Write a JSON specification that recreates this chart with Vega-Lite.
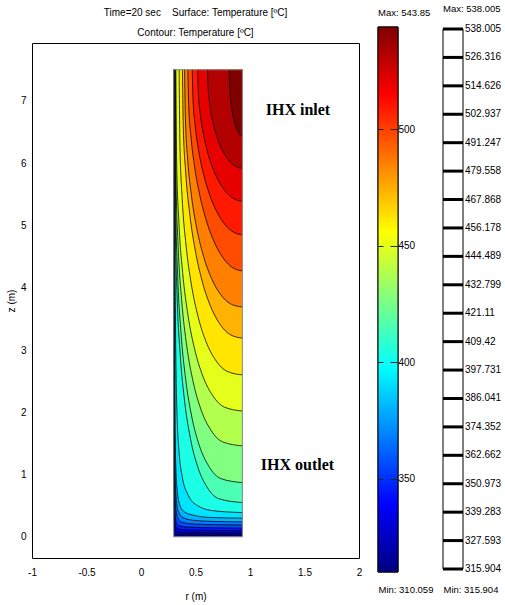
{
  "$schema": "https://vega.github.io/schema/vega-lite/v6.json",
  "padding": {"left": 5, "top": 3, "right": 0, "bottom": 0},
  "background": "white",
  "spacing": 14,
  "align": "none",
  "config": {
    "font": "Liberation Sans",
    "view": {"stroke": "black", "strokeWidth": 1},
    "axis": {"labelFont": "Liberation Sans", "labelFontSize": 10, "labelColor": "black", "titleFont": "Liberation Sans", "titleFontSize": 10, "titleFontWeight": "normal", "titleColor": "black", "grid": false},
    "title": {"font": "Liberation Sans", "fontSize": 10, "fontWeight": "normal", "color": "black"}
  },
  "datasets": {
    "base": [{"r": 0.3, "r2": 0.93, "z": 0, "z2": 7.5, "level": 310.059}],
    "notes": [{"label": "IHX inlet", "r": 1.44, "z": 6.86}, {"label": "IHX outlet", "r": 1.435, "z": 1.16}],
    "cbar": [{"tmin": 310.059, "tmax": 543.85}],
    "cbox": [{"lo": 315.904, "hi": 538.005}],
    "levels": [{"level": 315.904}, {"level": 327.593}, {"level": 339.283}, {"level": 350.973}, {"level": 362.662}, {"level": 374.352}, {"level": 386.041}, {"level": 397.731}, {"level": 409.42}, {"level": 421.11}, {"level": 432.799}, {"level": 444.489}, {"level": 456.178}, {"level": 467.868}, {"level": 479.558}, {"level": 491.247}, {"level": 502.937}, {"level": 514.626}, {"level": 526.316}, {"level": 538.005}],
    "contours": [
      {"level": 315.904, "i": 0, "r": 0.3005, "z": 7.5}, {"level": 315.904, "i": 1, "r": 0.3009, "z": 4.5}, {"level": 315.904, "i": 2, "r": 0.3012, "z": 2.5}, {"level": 315.904, "i": 3, "r": 0.3017, "z": 0.7}, {"level": 315.904, "i": 4, "r": 0.3028, "z": 0.28}, {"level": 315.904, "i": 5, "r": 0.305, "z": 0.12}, {"level": 315.904, "i": 6, "r": 0.31, "z": 0.06}, {"level": 315.904, "i": 7, "r": 0.32, "z": 0.04}, {"level": 315.904, "i": 8, "r": 0.38, "z": 0.034}, {"level": 315.904, "i": 9, "r": 0.65, "z": 0.031}, {"level": 315.904, "i": 10, "r": 0.93, "z": 0.03},
      {"level": 327.593, "i": 0, "r": 0.301, "z": 7.5}, {"level": 327.593, "i": 1, "r": 0.3017, "z": 4.5}, {"level": 327.593, "i": 2, "r": 0.3022, "z": 2.5}, {"level": 327.593, "i": 3, "r": 0.303, "z": 0.8}, {"level": 327.593, "i": 4, "r": 0.3048, "z": 0.35}, {"level": 327.593, "i": 5, "r": 0.308, "z": 0.18}, {"level": 327.593, "i": 6, "r": 0.315, "z": 0.11}, {"level": 327.593, "i": 7, "r": 0.33, "z": 0.08}, {"level": 327.593, "i": 8, "r": 0.4, "z": 0.068}, {"level": 327.593, "i": 9, "r": 0.65, "z": 0.062}, {"level": 327.593, "i": 10, "r": 0.93, "z": 0.06},
      {"level": 339.283, "i": 0, "r": 0.3015, "z": 7.5}, {"level": 339.283, "i": 1, "r": 0.3025, "z": 4.5}, {"level": 339.283, "i": 2, "r": 0.3032, "z": 2.5}, {"level": 339.283, "i": 3, "r": 0.3045, "z": 0.9}, {"level": 339.283, "i": 4, "r": 0.307, "z": 0.45}, {"level": 339.283, "i": 5, "r": 0.311, "z": 0.25}, {"level": 339.283, "i": 6, "r": 0.321, "z": 0.16}, {"level": 339.283, "i": 7, "r": 0.342, "z": 0.125}, {"level": 339.283, "i": 8, "r": 0.42, "z": 0.11}, {"level": 339.283, "i": 9, "r": 0.65, "z": 0.103}, {"level": 339.283, "i": 10, "r": 0.93, "z": 0.1},
      {"level": 350.973, "i": 0, "r": 0.302, "z": 7.5}, {"level": 350.973, "i": 1, "r": 0.3035, "z": 4.5}, {"level": 350.973, "i": 2, "r": 0.3045, "z": 2.5}, {"level": 350.973, "i": 3, "r": 0.306, "z": 1.0}, {"level": 350.973, "i": 4, "r": 0.309, "z": 0.55}, {"level": 350.973, "i": 5, "r": 0.315, "z": 0.33}, {"level": 350.973, "i": 6, "r": 0.328, "z": 0.22}, {"level": 350.973, "i": 7, "r": 0.355, "z": 0.175}, {"level": 350.973, "i": 8, "r": 0.44, "z": 0.155}, {"level": 350.973, "i": 9, "r": 0.65, "z": 0.145}, {"level": 350.973, "i": 10, "r": 0.93, "z": 0.14},
      {"level": 362.662, "i": 0, "r": 0.303, "z": 7.5}, {"level": 362.662, "i": 1, "r": 0.305, "z": 4.5}, {"level": 362.662, "i": 2, "r": 0.306, "z": 2.5}, {"level": 362.662, "i": 3, "r": 0.308, "z": 1.2}, {"level": 362.662, "i": 4, "r": 0.312, "z": 0.7}, {"level": 362.662, "i": 5, "r": 0.32, "z": 0.45}, {"level": 362.662, "i": 6, "r": 0.336, "z": 0.31}, {"level": 362.662, "i": 7, "r": 0.37, "z": 0.24}, {"level": 362.662, "i": 8, "r": 0.46, "z": 0.21}, {"level": 362.662, "i": 9, "r": 0.65, "z": 0.196}, {"level": 362.662, "i": 10, "r": 0.93, "z": 0.19},
      {"level": 374.352, "i": 0, "r": 0.304, "z": 7.5}, {"level": 374.352, "i": 1, "r": 0.306, "z": 4.5}, {"level": 374.352, "i": 2, "r": 0.308, "z": 2.5}, {"level": 374.352, "i": 3, "r": 0.31, "z": 1.4}, {"level": 374.352, "i": 4, "r": 0.315, "z": 0.9}, {"level": 374.352, "i": 5, "r": 0.325, "z": 0.58}, {"level": 374.352, "i": 6, "r": 0.345, "z": 0.4}, {"level": 374.352, "i": 7, "r": 0.385, "z": 0.31}, {"level": 374.352, "i": 8, "r": 0.48, "z": 0.265}, {"level": 374.352, "i": 9, "r": 0.65, "z": 0.248}, {"level": 374.352, "i": 10, "r": 0.93, "z": 0.24},
      {"level": 386.041, "i": 0, "r": 0.305, "z": 7.5}, {"level": 386.041, "i": 1, "r": 0.308, "z": 4.5}, {"level": 386.041, "i": 2, "r": 0.311, "z": 2.5}, {"level": 386.041, "i": 3, "r": 0.314, "z": 1.6}, {"level": 386.041, "i": 4, "r": 0.32, "z": 1.1}, {"level": 386.041, "i": 5, "r": 0.332, "z": 0.75}, {"level": 386.041, "i": 6, "r": 0.355, "z": 0.52}, {"level": 386.041, "i": 7, "r": 0.4, "z": 0.4}, {"level": 386.041, "i": 8, "r": 0.5, "z": 0.34}, {"level": 386.041, "i": 9, "r": 0.65, "z": 0.31}, {"level": 386.041, "i": 10, "r": 0.93, "z": 0.3},
      {"level": 397.731, "i": 0, "r": 0.307, "z": 7.5}, {"level": 397.731, "i": 1, "r": 0.311, "z": 5.0}, {"level": 397.731, "i": 2, "r": 0.316, "z": 3.5}, {"level": 397.731, "i": 3, "r": 0.322, "z": 2.6}, {"level": 397.731, "i": 4, "r": 0.332, "z": 1.9}, {"level": 397.731, "i": 5, "r": 0.35, "z": 1.35}, {"level": 397.731, "i": 6, "r": 0.38, "z": 0.95}, {"level": 397.731, "i": 7, "r": 0.43, "z": 0.68}, {"level": 397.731, "i": 8, "r": 0.52, "z": 0.5}, {"level": 397.731, "i": 9, "r": 0.66, "z": 0.42}, {"level": 397.731, "i": 10, "r": 0.93, "z": 0.39},
      {"level": 409.42, "i": 0, "r": 0.309, "z": 7.5}, {"level": 409.42, "i": 1, "r": 0.3147, "z": 5.0696}, {"level": 409.42, "i": 2, "r": 0.3317, "z": 3.8492}, {"level": 409.42, "i": 3, "r": 0.3604, "z": 2.9144}, {"level": 409.42, "i": 4, "r": 0.4008, "z": 2.1686}, {"level": 409.42, "i": 5, "r": 0.4536, "z": 1.5772}, {"level": 409.42, "i": 6, "r": 0.5203, "z": 1.1248}, {"level": 409.42, "i": 7, "r": 0.6038, "z": 0.8044}, {"level": 409.42, "i": 8, "r": 0.7128, "z": 0.6133}, {"level": 409.42, "i": 9, "r": 0.93, "z": 0.55},
      {"level": 421.11, "i": 0, "r": 0.312, "z": 7.5}, {"level": 421.11, "i": 1, "r": 0.3181, "z": 5.3757}, {"level": 421.11, "i": 2, "r": 0.3365, "z": 4.1989}, {"level": 421.11, "i": 3, "r": 0.3672, "z": 3.2747}, {"level": 421.11, "i": 4, "r": 0.4103, "z": 2.5255}, {"level": 421.11, "i": 5, "r": 0.4663, "z": 1.9248}, {"level": 421.11, "i": 6, "r": 0.5361, "z": 1.4621}, {"level": 421.11, "i": 7, "r": 0.6223, "z": 1.1325}, {"level": 421.11, "i": 8, "r": 0.732, "z": 0.9356}, {"level": 421.11, "i": 9, "r": 0.93, "z": 0.87},
      {"level": 432.799, "i": 0, "r": 0.315, "z": 7.5}, {"level": 432.799, "i": 1, "r": 0.3216, "z": 5.7267}, {"level": 432.799, "i": 2, "r": 0.3412, "z": 4.6497}, {"level": 432.799, "i": 3, "r": 0.3739, "z": 3.7818}, {"level": 432.799, "i": 4, "r": 0.4197, "z": 3.0672}, {"level": 432.799, "i": 5, "r": 0.4786, "z": 2.488}, {"level": 432.799, "i": 6, "r": 0.5514, "z": 2.0386}, {"level": 432.799, "i": 7, "r": 0.6398, "z": 1.7173}, {"level": 432.799, "i": 8, "r": 0.7494, "z": 1.5246}, {"level": 432.799, "i": 9, "r": 0.93, "z": 1.46},
      {"level": 444.489, "i": 0, "r": 0.32, "z": 7.5}, {"level": 444.489, "i": 1, "r": 0.327, "z": 6.0259}, {"level": 444.489, "i": 2, "r": 0.3478, "z": 5.0493}, {"level": 444.489, "i": 3, "r": 0.3824, "z": 4.2416}, {"level": 444.489, "i": 4, "r": 0.4305, "z": 3.5659}, {"level": 444.489, "i": 5, "r": 0.4921, "z": 3.013}, {"level": 444.489, "i": 6, "r": 0.5673, "z": 2.5806}, {"level": 444.489, "i": 7, "r": 0.6572, "z": 2.2699}, {"level": 444.489, "i": 8, "r": 0.7659, "z": 2.0825}, {"level": 444.489, "i": 9, "r": 0.93, "z": 2.02},
      {"level": 456.178, "i": 0, "r": 0.35, "z": 7.5}, {"level": 456.178, "i": 1, "r": 0.3571, "z": 6.2926}, {"level": 456.178, "i": 2, "r": 0.3781, "z": 5.4229}, {"level": 456.178, "i": 3, "r": 0.413, "z": 4.6859}, {"level": 456.178, "i": 4, "r": 0.4614, "z": 4.0592}, {"level": 456.178, "i": 5, "r": 0.5227, "z": 3.5413}, {"level": 456.178, "i": 6, "r": 0.5969, "z": 3.1326}, {"level": 456.178, "i": 7, "r": 0.6841, "z": 2.8377}, {"level": 456.178, "i": 8, "r": 0.7871, "z": 2.6598}, {"level": 456.178, "i": 9, "r": 0.93, "z": 2.6},
      {"level": 467.868, "i": 0, "r": 0.38, "z": 7.5}, {"level": 467.868, "i": 1, "r": 0.3875, "z": 6.6087}, {"level": 467.868, "i": 2, "r": 0.4099, "z": 5.8587}, {"level": 467.868, "i": 3, "r": 0.4468, "z": 5.1903}, {"level": 467.868, "i": 4, "r": 0.4973, "z": 4.6041}, {"level": 467.868, "i": 5, "r": 0.5605, "z": 4.1093}, {"level": 467.868, "i": 6, "r": 0.6353, "z": 3.7132}, {"level": 467.868, "i": 7, "r": 0.7206, "z": 3.4245}, {"level": 467.868, "i": 8, "r": 0.8163, "z": 3.249}, {"level": 467.868, "i": 9, "r": 0.93, "z": 3.19},
      {"level": 479.558, "i": 0, "r": 0.4, "z": 7.5}, {"level": 479.558, "i": 1, "r": 0.4073, "z": 6.7121}, {"level": 479.558, "i": 2, "r": 0.4288, "z": 6.0491}, {"level": 479.558, "i": 3, "r": 0.4643, "z": 5.4582}, {"level": 479.558, "i": 4, "r": 0.513, "z": 4.9401}, {"level": 479.558, "i": 5, "r": 0.5739, "z": 4.5027}, {"level": 479.558, "i": 6, "r": 0.646, "z": 4.1525}, {"level": 479.558, "i": 7, "r": 0.7282, "z": 3.8973}, {"level": 479.558, "i": 8, "r": 0.8204, "z": 3.7422}, {"level": 479.558, "i": 9, "r": 0.93, "z": 3.69},
      {"level": 491.247, "i": 0, "r": 0.43, "z": 7.5}, {"level": 491.247, "i": 1, "r": 0.4376, "z": 6.9393}, {"level": 491.247, "i": 2, "r": 0.4602, "z": 6.3953}, {"level": 491.247, "i": 3, "r": 0.497, "z": 5.885}, {"level": 491.247, "i": 4, "r": 0.547, "z": 5.4238}, {"level": 491.247, "i": 5, "r": 0.6086, "z": 5.0258}, {"level": 491.247, "i": 6, "r": 0.68, "z": 4.7028}, {"level": 491.247, "i": 7, "r": 0.759, "z": 4.4648}, {"level": 491.247, "i": 8, "r": 0.8432, "z": 4.3191}, {"level": 491.247, "i": 9, "r": 0.93, "z": 4.27},
      {"level": 502.937, "i": 0, "r": 0.47, "z": 7.5}, {"level": 502.937, "i": 1, "r": 0.477, "z": 7.04}, {"level": 502.937, "i": 2, "r": 0.4977, "z": 6.5937}, {"level": 502.937, "i": 3, "r": 0.5316, "z": 6.175}, {"level": 502.937, "i": 4, "r": 0.5776, "z": 5.7966}, {"level": 502.937, "i": 5, "r": 0.6343, "z": 5.47}, {"level": 502.937, "i": 6, "r": 0.7, "z": 5.2051}, {"level": 502.937, "i": 7, "r": 0.7727, "z": 5.0098}, {"level": 502.937, "i": 8, "r": 0.8501, "z": 4.8903}, {"level": 502.937, "i": 9, "r": 0.93, "z": 4.85},
      {"level": 514.626, "i": 0, "r": 0.52, "z": 7.5}, {"level": 514.626, "i": 1, "r": 0.5262, "z": 7.1337}, {"level": 514.626, "i": 2, "r": 0.5447, "z": 6.7784}, {"level": 514.626, "i": 3, "r": 0.5749, "z": 6.445}, {"level": 514.626, "i": 4, "r": 0.6159, "z": 6.1437}, {"level": 514.626, "i": 5, "r": 0.6665, "z": 5.8837}, {"level": 514.626, "i": 6, "r": 0.725, "z": 5.6727}, {"level": 514.626, "i": 7, "r": 0.7898, "z": 5.5172}, {"level": 514.626, "i": 8, "r": 0.8588, "z": 5.4221}, {"level": 514.626, "i": 9, "r": 0.93, "z": 5.39},
      {"level": 526.316, "i": 0, "r": 0.61, "z": 7.5}, {"level": 526.316, "i": 1, "r": 0.6149, "z": 7.2257}, {"level": 526.316, "i": 2, "r": 0.6293, "z": 6.9596}, {"level": 526.316, "i": 3, "r": 0.6529, "z": 6.71}, {"level": 526.316, "i": 4, "r": 0.6849, "z": 6.4844}, {"level": 526.316, "i": 5, "r": 0.7243, "z": 6.2897}, {"level": 526.316, "i": 6, "r": 0.77, "z": 6.1317}, {"level": 526.316, "i": 7, "r": 0.8206, "z": 6.0153}, {"level": 526.316, "i": 8, "r": 0.8744, "z": 5.944}, {"level": 526.316, "i": 9, "r": 0.93, "z": 5.92},
      {"level": 538.005, "i": 0, "r": 0.81, "z": 7.5}, {"level": 538.005, "i": 1, "r": 0.8118, "z": 7.316}, {"level": 538.005, "i": 2, "r": 0.8172, "z": 7.137}, {"level": 538.005, "i": 3, "r": 0.8261, "z": 6.97}, {"level": 538.005, "i": 4, "r": 0.8381, "z": 6.819}, {"level": 538.005, "i": 5, "r": 0.8529, "z": 6.688}, {"level": 538.005, "i": 6, "r": 0.87, "z": 6.582}, {"level": 538.005, "i": 7, "r": 0.889, "z": 6.504}, {"level": 538.005, "i": 8, "r": 0.9092, "z": 6.456}, {"level": 538.005, "i": 9, "r": 0.93, "z": 6.44}
    ]
  },
  "hconcat": [
    {
      "width": 327,
      "height": 515,
      "title": {"text": ["Time=20 sec\u00a0\u00a0\u00a0\u00a0Surface: Temperature [ºC]", "Contour: Temperature [ºC]"], "anchor": "middle", "frame": "group", "lineHeight": 20, "offset": 5},
      "encoding": {
        "x": {"field": "r", "type": "quantitative", "scale": {"domain": [-1, 2], "nice": false, "zero": false}, "axis": {"values": [-1, -0.5, 0, 0.5, 1, 1.5, 2], "labelExpr": "datum.value < 0 ? '-' + format(-datum.value, '~g') : format(datum.value, '~g')", "title": "r (m)", "ticks": false, "domain": false, "grid": false, "labelPadding": 9, "titlePadding": 14, "labelFlush": false}},
        "y": {"field": "z", "type": "quantitative", "stack": null, "scale": {"domain": [-0.34, 7.93], "nice": false, "zero": false}, "axis": {"values": [0, 1, 2, 3, 4, 5, 6, 7], "format": "d", "title": "z (m)", "ticks": false, "domain": false, "grid": false, "labelPadding": 6, "titlePadding": 4, "labelFlush": false}}
      },
      "layer": [
        {
          "data": {"name": "base"},
          "mark": {"type": "rect"},
          "encoding": {
            "x2": {"field": "r2"},
            "y2": {"field": "z2"},
            "color": {"field": "level", "type": "quantitative", "legend": null, "scale": {"type": "linear", "domain": [304.214, 333.438, 391.886, 421.11, 450.333, 508.781, 538.005], "range": ["#000080", "#0000ff", "#00ffff", "#80ff80", "#ffff00", "#ff0000", "#800000"], "interpolate": "rgb"}}
          }
        },
        {
          "data": {"name": "contours"},
          "mark": {"type": "area", "interpolate": "monotone", "orient": "vertical", "opacity": 1},
          "encoding": {
            "y": {"field": "z", "type": "quantitative", "stack": null},
            "y2": {"datum": 7.5},
            "color": {"field": "level", "type": "quantitative", "legend": null, "scale": {"type": "linear", "domain": [304.214, 333.438, 391.886, 421.11, 450.333, 508.781, 538.005], "range": ["#000080", "#0000ff", "#00ffff", "#80ff80", "#ffff00", "#ff0000", "#800000"], "interpolate": "rgb"}},
            "detail": {"field": "level", "type": "nominal"}
          }
        },
        {
          "data": {"name": "contours"},
          "mark": {"type": "line", "interpolate": "monotone", "color": "#000000", "strokeWidth": 0.9, "opacity": 0.85},
          "encoding": {
            "detail": {"field": "level", "type": "nominal"},
            "order": {"field": "i", "type": "quantitative"}
          }
        },
        {
          "data": {"name": "base"},
          "mark": {"type": "rect", "filled": false, "stroke": "#8c8c8c", "strokeWidth": 1},
          "encoding": {"x2": {"field": "r2"}, "y2": {"field": "z2"}}
        },
        {
          "data": {"name": "notes"},
          "mark": {"type": "text", "font": "Liberation Serif", "fontWeight": "bold", "fontSize": 16, "align": "center", "baseline": "middle", "color": "black"},
          "encoding": {"text": {"field": "label"}}
        }
      ]
    },
    {
      "spacing": 8,
      "align": "none",
      "hconcat": [
        {
          "width": 20,
          "height": 529,
          "view": {"stroke": null},
          "title": {"text": "Max: 543.85", "anchor": "start", "frame": "group", "offset": 9, "fontSize": 9.5},
          "data": {"name": "cbar"},
          "layer": [
            {
              "mark": {"type": "rect", "stroke": "black", "strokeWidth": 1, "fill": {"gradient": "linear", "x1": 0, "y1": 1, "x2": 0, "y2": 0, "stops": [{"offset": 0, "color": "#000080"}, {"offset": 0.125, "color": "#0000ff"}, {"offset": 0.375, "color": "#00ffff"}, {"offset": 0.5, "color": "#80ff80"}, {"offset": 0.625, "color": "#ffff00"}, {"offset": 0.875, "color": "#ff0000"}, {"offset": 1, "color": "#800000"}]}},
              "encoding": {
                "x": {"datum": 0, "type": "quantitative", "scale": {"domain": [0, 1]}, "axis": {"title": "Min: 310.059", "titleFontSize": 9.5, "labels": false, "ticks": false, "domain": false, "grid": false, "titleAnchor": "start", "titlePadding": 12}},
                "x2": {"datum": 1},
                "y": {"field": "tmin", "type": "quantitative", "scale": {"domain": [310.059, 536.987], "nice": false, "zero": false}, "axis": {"orient": "right", "values": [350, 400, 450, 500], "title": null, "domain": false, "grid": false, "tickSize": -8, "tickColor": "#222222", "labelPadding": 8, "labelFlush": false, "labelOverlap": false, "zindex": 1}},
                "y2": {"field": "tmax"}
              }
            },
            {
              "mark": {"type": "rect", "stroke": "black", "strokeWidth": 1, "fill": {"gradient": "linear", "x1": 0, "y1": 1, "x2": 0, "y2": 0, "stops": [{"offset": 0, "color": "#000080"}, {"offset": 0.125, "color": "#0000ff"}, {"offset": 0.375, "color": "#00ffff"}, {"offset": 0.5, "color": "#80ff80"}, {"offset": 0.625, "color": "#ffff00"}, {"offset": 0.875, "color": "#ff0000"}, {"offset": 1, "color": "#800000"}]}},
              "encoding": {
                "x": {"datum": 0, "type": "quantitative", "scale": {"domain": [0, 1]}},
                "x2": {"datum": 1},
                "y": {"field": "tmin", "type": "quantitative", "scale": {"domain": [310.059, 536.987], "nice": false, "zero": false}, "axis": {"orient": "left", "values": [350, 400, 450, 500], "title": null, "labels": false, "domain": false, "grid": false, "tickSize": -5, "tickColor": "#222222", "zindex": 1}},
                "y2": {"field": "tmax"}
              }
            }
          ],
          "resolve": {"axis": {"y": "independent"}}
        },
        {
          "width": 20,
          "height": 526,
          "view": {"stroke": null},
          "title": {"text": "Max: 538.005", "anchor": "start", "frame": "group", "offset": 11, "fontSize": 9.5},
          "layer": [
            {
              "data": {"name": "cbox"},
              "mark": {"type": "rect", "fill": "white", "stroke": "black", "strokeWidth": 1},
              "encoding": {
                "x": {"datum": 0, "type": "quantitative", "scale": {"domain": [0, 1]}, "axis": {"title": "Min: 315.904", "titleFontSize": 9.5, "labels": false, "ticks": false, "domain": false, "grid": false, "titleAnchor": "start", "titlePadding": 15}},
                "x2": {"datum": 1},
                "y": {"field": "lo", "type": "quantitative", "scale": {"domain": [315.904, 532.247], "nice": false, "zero": false}, "axis": null},
                "y2": {"field": "hi"}
              }
            },
            {
              "data": {"name": "levels"},
              "mark": {"type": "rule", "color": "black", "strokeWidth": 3},
              "encoding": {
                "x": {"datum": 0, "type": "quantitative"},
                "x2": {"datum": 1},
                "y": {"field": "level", "type": "quantitative", "scale": {"domain": [315.904, 532.247], "nice": false, "zero": false}, "axis": null}
              }
            },
            {
              "data": {"name": "levels"},
              "mark": {"type": "text", "align": "left", "baseline": "middle", "dx": 2, "font": "Liberation Sans", "fontSize": 10, "color": "black"},
              "encoding": {
                "x": {"datum": 1, "type": "quantitative"},
                "y": {"field": "level", "type": "quantitative", "scale": {"domain": [315.904, 532.247], "nice": false, "zero": false}, "axis": null},
                "text": {"field": "level", "type": "quantitative", "format": ".6~g"}
              }
            }
          ]
        }
      ]
    }
  ]
}
